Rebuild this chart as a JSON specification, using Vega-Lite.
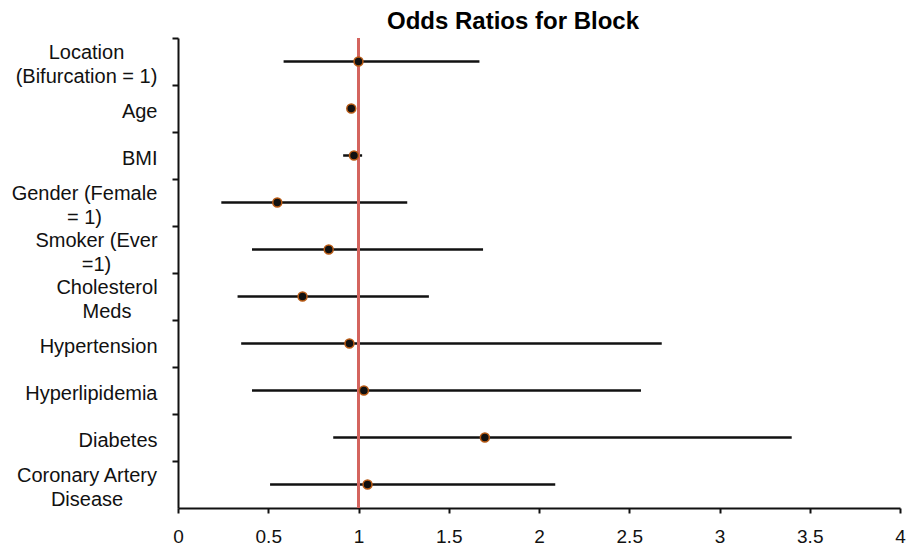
{
  "$schema": "https://vega.github.io/schema/vega-lite/v6.json",
  "width": 722,
  "height": 470,
  "autosize": {"type": "none"},
  "padding": {"left": 178, "top": 38, "right": 7, "bottom": 41},
  "background": "white",
  "title": {"text": "Odds Ratios for Block", "font": "Liberation Sans", "fontSize": 24, "fontWeight": "bold", "color": "#000", "anchor": "middle", "dx": -26, "offset": 3},
  "config": {"view": {"stroke": null}, "axis": {"grid": false}},
  "data": {
    "values": [
      {"factor": "Location (Bifurcation = 1)", "or": 1.0, "lower": 0.585, "upper": 1.67},
      {"factor": "Age", "or": 0.96, "lower": 0.95, "upper": 0.975},
      {"factor": "BMI", "or": 0.975, "lower": 0.915, "upper": 1.02},
      {"factor": "Gender (Female = 1)", "or": 0.55, "lower": 0.24, "upper": 1.27},
      {"factor": "Smoker (Ever =1)", "or": 0.835, "lower": 0.41, "upper": 1.69},
      {"factor": "Cholesterol Meds", "or": 0.69, "lower": 0.33, "upper": 1.39},
      {"factor": "Hypertension", "or": 0.95, "lower": 0.35, "upper": 2.68},
      {"factor": "Hyperlipidemia", "or": 1.03, "lower": 0.41, "upper": 2.565},
      {"factor": "Diabetes", "or": 1.70, "lower": 0.86, "upper": 3.40},
      {"factor": "Coronary Artery Disease", "or": 1.05, "lower": 0.51, "upper": 2.09}
    ]
  },
  "encoding": {
    "y": {
      "field": "factor", "type": "nominal", "sort": null,
      "scale": {"type": "band", "paddingInner": 0, "paddingOuter": 0},
      "axis": {
        "title": null, "orient": "left", "bandPosition": 0,
        "domainColor": "#111", "domainWidth": 2,
        "tickColor": "#111", "tickWidth": 2, "tickSize": 6,
        "labelFont": "Liberation Sans", "labelFontSize": 20, "labelColor": "#111",
        "labelBaseline": "middle",
        "labelLineHeight": 24, "labelLimit": 0, "labelOverlap": false, "labelBound": false,
        "labelExpr": "datum.value == 'Location (Bifurcation = 1)' ? ['Location', '(Bifurcation = 1)'] : datum.value == 'Gender (Female = 1)' ? ['Gender (Female', '= 1)'] : datum.value == 'Smoker (Ever =1)' ? ['Smoker (Ever', '=1)'] : datum.value == 'Cholesterol Meds' ? ['Cholesterol', 'Meds'] : datum.value == 'Coronary Artery Disease' ? ['Coronary Artery', 'Disease'] : datum.value",
        "labelAlign": {"condition": {"test": "datum.value == 'Location (Bifurcation = 1)' || datum.value == 'Gender (Female = 1)' || datum.value == 'Smoker (Ever =1)' || datum.value == 'Cholesterol Meds' || datum.value == 'Coronary Artery Disease'", "value": "center"}, "value": "right"},
        "labelOffset": {"condition": {"test": "datum.value == 'Location (Bifurcation = 1)' || datum.value == 'Gender (Female = 1)' || datum.value == 'Smoker (Ever =1)' || datum.value == 'Cholesterol Meds' || datum.value == 'Coronary Artery Disease'", "value": -8.5}, "value": 3.5},
        "labelPadding": {"expr": "datum.value == 'Location (Bifurcation = 1)' ? 86 : datum.value == 'Gender (Female = 1)' ? 88 : datum.value == 'Smoker (Ever =1)' ? 76 : datum.value == 'Cholesterol Meds' ? 65.5 : datum.value == 'Coronary Artery Disease' ? 85.5 : 15"}
      }
    }
  },
  "layer": [
    {
      "mark": {"type": "rule", "strokeWidth": 2.5, "color": "#111"},
      "encoding": {
        "x": {
          "field": "lower", "type": "quantitative",
          "scale": {"domain": [0, 4], "nice": false, "zero": false},
          "axis": {
            "title": null, "values": [0, 0.5, 1, 1.5, 2, 2.5, 3, 3.5, 4], "format": "~g",
            "domainColor": "#111", "domainWidth": 2,
            "tickColor": "#111", "tickWidth": 2, "tickSize": 5,
            "labelFont": "Liberation Sans", "labelFontSize": 19, "labelColor": "#111",
            "labelPadding": 14, "labelFlush": false, "labelOverlap": false
          }
        },
        "x2": {"field": "upper"}
      }
    },
    {
      "mark": {"type": "rule", "color": "#d4645e", "strokeWidth": 3},
      "encoding": {"x": {"datum": 1, "type": "quantitative"}, "y": {"value": 0}, "y2": {"value": 470}}
    },
    {
      "mark": {"type": "circle", "fill": "#111", "stroke": "#b85a14", "strokeWidth": 1.5, "opacity": 1, "size": 80},
      "encoding": {
        "x": {"field": "or", "type": "quantitative"}
      }
    }
  ]
}
